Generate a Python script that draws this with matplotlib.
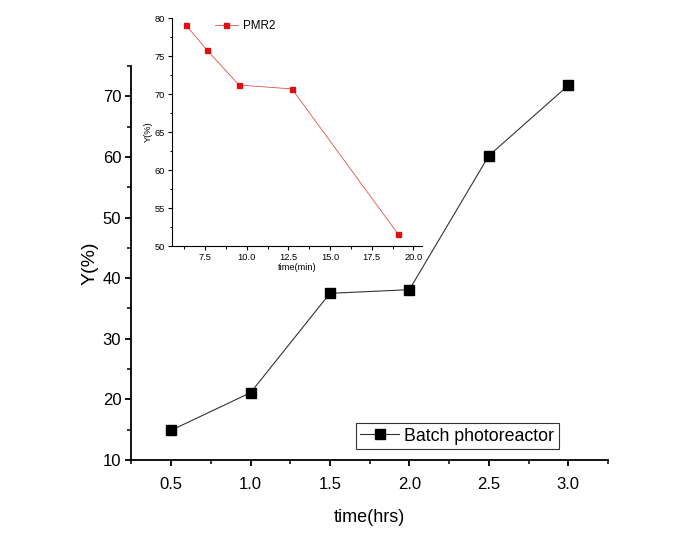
import matplotlib
matplotlib.use("Agg")
import matplotlib.pyplot as plt
from matplotlib.ticker import MultipleLocator

plt.rcParams['font.family'] = ['Liberation Sans', 'DejaVu Sans']

# batch photoreactor yield vs time (hours)
batch_time = [0.5, 1.0, 1.5, 2.0, 2.5, 3.0]
batch_yield = [14.9, 21.1, 37.5, 38.1, 60.2, 71.8]

# PMR2 yield vs residence time (minutes)
pmr2_time = [6.35, 7.62, 9.54, 12.71, 19.07]
pmr2_yield = [79.1, 75.8, 71.2, 70.7, 51.6]

fig = plt.figure(figsize=(6.93, 5.42), dpi=100)

ax = fig.add_axes([0.1896, 0.1513, 0.6877, 0.7269])
ax.plot(batch_time, batch_yield, color='#333333', lw=0.8, marker='s',
        markersize=7.5, markerfacecolor='black', markeredgecolor='black',
        label='Batch photoreactor')
ax.set_xlim(0.25, 3.25)
ax.set_ylim(10, 75)
ax.xaxis.set_major_locator(MultipleLocator(0.5))
ax.xaxis.set_minor_locator(MultipleLocator(0.25))
ax.yaxis.set_major_locator(MultipleLocator(10))
ax.yaxis.set_minor_locator(MultipleLocator(5))
ax.set_yticks([10, 20, 30, 40, 50, 60, 70])
for s in ['top', 'right']:
    ax.spines[s].set_visible(False)
for s in ['left', 'bottom']:
    ax.spines[s].set_linewidth(1.3)
ax.tick_params(which='major', direction='out', length=4.3, width=1.3,
               labelsize=12, pad=3)
ax.tick_params(which='minor', direction='out', length=2.9, width=1.1)
ax.tick_params(axis='x', which='major', pad=8)
ax.set_xlabel('time(hrs)', fontsize=13, labelpad=12)
ax.set_ylabel('Y(%)', fontsize=14, labelpad=3)
leg = ax.legend(loc='lower right', bbox_to_anchor=(0.897, 0.028), fontsize=12.8,
                frameon=True, fancybox=False, handlelength=2.2,
                borderpad=0.25, handletextpad=0.3, borderaxespad=0)
leg.get_frame().set_edgecolor('black')
leg.get_frame().set_linewidth(0.8)

# inset: PMR2
ins = fig.add_axes([0.2478, 0.5461, 0.3608, 0.4202])
ins.plot(pmr2_time, pmr2_yield, color='#e05050', lw=0.6, marker='s',
         markersize=3.6, markerfacecolor='#dd1111', markeredgecolor='#dd1111',
         label='PMR2')
ins.set_xlim(5.5, 20.5)
ins.set_ylim(50, 80)
ins.xaxis.set_major_locator(MultipleLocator(2.5))
ins.xaxis.set_minor_locator(MultipleLocator(1.25))
ins.yaxis.set_major_locator(MultipleLocator(5))
ins.yaxis.set_minor_locator(MultipleLocator(2.5))
ins.set_xticks([7.5, 10.0, 12.5, 15.0, 17.5, 20.0])
for s in ['top', 'right']:
    ins.spines[s].set_visible(False)
for s in ['left', 'bottom']:
    ins.spines[s].set_linewidth(0.8)
ins.tick_params(which='major', direction='out', length=3, width=0.8,
                labelsize=6.7, pad=2)
ins.tick_params(which='minor', direction='out', length=1.8, width=0.7)
ins.set_xlabel('time(min)', fontsize=6.7, labelpad=1)
ins.set_ylabel('Y(%)', fontsize=6.7, labelpad=1)
ins.legend(loc='upper left', bbox_to_anchor=(0.13, 1.04), fontsize=8.4,
           frameon=False, handlelength=2.0, handletextpad=0.4)

fig.savefig('out.png', dpi=100, facecolor='white')
